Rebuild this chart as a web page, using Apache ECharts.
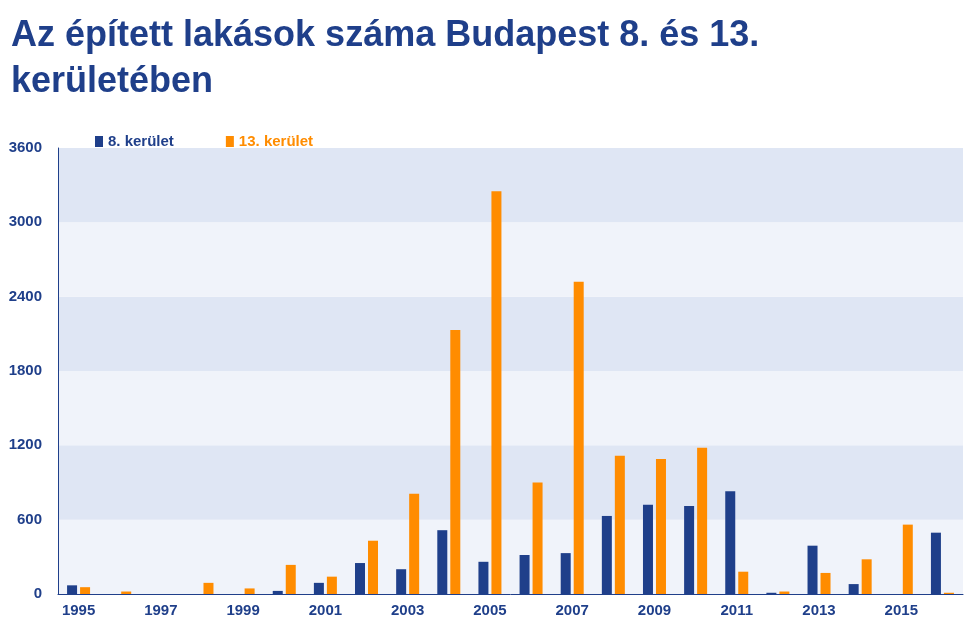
<!DOCTYPE html><html><head><meta charset="utf-8"><script src="https://cdn.jsdelivr.net/npm/echarts@6/dist/echarts.min.js"></script></head><body style="margin:0"><div id="c" style="width:979px;height:640px"></div><script>
const years=['1995','1996','1997','1998','1999','2000','2001','2002','2003','2004','2005','2006','2007','2008','2009','2010','2011','2012','2013','2014','2015','2016'];
const d8=[70,0,0,0,0,25,90,250,200,515,260,315,330,630,720,710,830,10,390,80,0,495];
const d13=[55,20,0,90,45,235,140,430,810,2130,3250,900,2520,1115,1090,1180,180,20,170,280,560,10];
const c=echarts.init(document.getElementById('c'));
const blue='#1f3f8a';
c.setOption({
title:{text:'Az épített lakások száma Budapest 8. és 13.\nkerületében',left:6,top:8,textStyle:{fontFamily:'Liberation Sans',fontSize:36,fontWeight:'bold',color:blue,lineHeight:46}},
legend:{top:129,left:90,itemGap:52,itemWidth:8,itemHeight:11,icon:'rect',textStyle:{fontFamily:'Liberation Sans',fontWeight:'bold',fontSize:15},
 data:[{name:'8. kerület',textStyle:{color:blue}},{name:'13. kerület',textStyle:{color:'#ff8c00'}}]},
grid:{left:58,right:16,top:148,bottom:46},
xAxis:{type:'category',data:years,axisTick:{show:false},axisLine:{lineStyle:{color:blue}},axisLabel:{color:blue,fontWeight:'bold',fontSize:15,fontFamily:'Liberation Sans',margin:9}},
yAxis:{min:0,max:3600,interval:600,axisLine:{show:true,lineStyle:{color:blue}},splitLine:{show:false},splitArea:{show:true,areaStyle:{color:['#f0f3fa','#dfe6f4']}},axisLabel:{formatter:v=>String(v),color:blue,fontWeight:'bold',fontSize:15,fontFamily:'Liberation Sans',margin:16}},
series:[{name:'8. kerület',type:'bar',data:d8,itemStyle:{color:'#1f3f8a'},barWidth:10,barGap:'30%'},
{name:'13. kerület',type:'bar',data:d13,itemStyle:{color:'#ff8c00'},barWidth:10}]
});
</script></body></html>
